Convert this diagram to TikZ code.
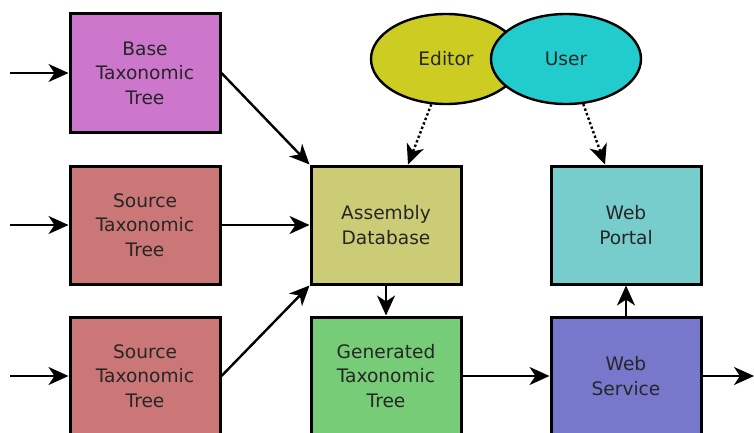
\documentclass[tikz,border=0pt]{standalone}
\usepackage{fontspec}
\setmainfont{DejaVu Sans}
\usetikzlibrary{shapes.geometric,arrows.meta}
\definecolor{basecol}{HTML}{CC77CC}
\definecolor{srccol}{HTML}{CC7777}
\definecolor{asmcol}{HTML}{CCCC77}
\definecolor{gencol}{HTML}{77CC77}
\definecolor{portcol}{HTML}{77CCCC}
\definecolor{servcol}{HTML}{7777CC}
\definecolor{edcol}{HTML}{CCCC22}
\definecolor{usercol}{HTML}{22CCCC}
\begin{document}
\begin{tikzpicture}[>={Stealth[length=10pt,width=9pt,inset=3pt]},x=0.5pt,y=-0.5pt,
  box/.style={draw,line width=1.5pt,minimum width=75pt,minimum height=59pt,
    align=center,inner sep=0pt,text=black!85,font=\fontsize{9.3}{12.25}\selectfont},
  actor/.style={ellipse,draw,line width=1.2pt,minimum width=75pt,minimum height=45pt,
    inner sep=0pt,text=black!85,font=\fontsize{9.3}{12.25}\selectfont},
  flow/.style={->,line width=1.2pt},
  uses/.style={->,line width=1.2pt,dash pattern=on 1.2pt off 1.2pt}]
  \useasboundingbox (0,0) rectangle (754,433);
  % tree inputs
  \node[box,fill=basecol] (base) at (145,73) {Base\\Taxonomic\\Tree};
  \node[box,fill=srccol] (srcA) at (145,225) {Source\\Taxonomic\\Tree};
  \node[box,fill=srccol] (srcB) at (145,376) {Source\\Taxonomic\\Tree};
  % assembly and output
  \node[box,fill=asmcol] (asm) at (386,225) {Assembly\\Database};
  \node[box,fill=gencol] (gen) at (386,376) {Generated\\Taxonomic\\Tree};
  \node[box,fill=portcol] (portal) at (626,225) {Web\\Portal};
  \node[box,fill=servcol] (serv) at (626,376) {Web\\Service};
  % people
  \node[actor,fill=edcol] (editor) at (446,59) {Editor};
  \node[actor,fill=usercol] (user) at (566,59) {User};
  % loose ends
  \coordinate (inA) at (10,73);
  \coordinate (inB) at (10,225);
  \coordinate (inC) at (10,376);
  \coordinate (out) at (754,376);
  \draw[flow] (inA) -- (base.west);
  \draw[flow] (inB) -- (srcA.west);
  \draw[flow] (inC) -- (srcB.west);
  \draw[flow] (base.east) -- (asm.north west);
  \draw[flow] (srcA.east) -- (asm.west);
  \draw[flow] (srcB.east) -- (asm.south west);
  \draw[flow] (asm.south) -- (gen.north);
  \draw[flow] (gen.east) -- (serv.west);
  \draw[flow] (serv.east) -- (out);
  \draw[flow] (serv.north) -- (portal.south);
  \draw[uses] (editor.-108) -- ([xshift=11pt]asm.north);
  \draw[uses] (user.-69) -- ([xshift=-10.5pt]portal.north);
\end{tikzpicture}
\end{document}
